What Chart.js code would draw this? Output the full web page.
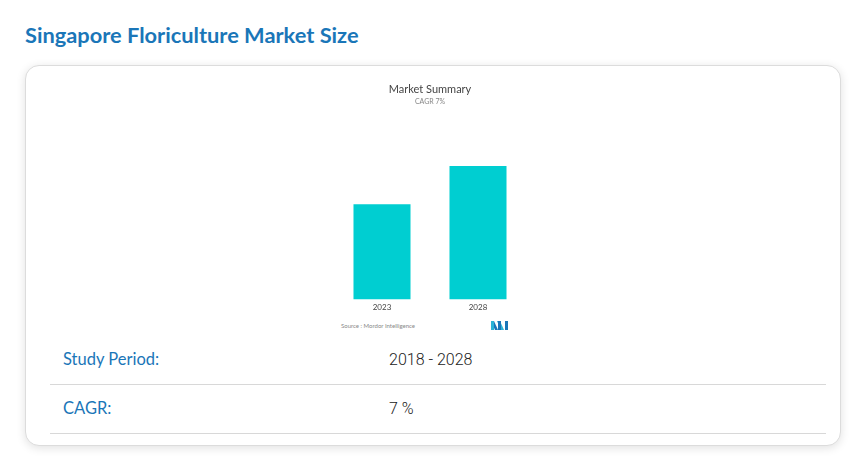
<!DOCTYPE html>
<html>
<head>
<meta charset="utf-8">
<script src="https://cdn.jsdelivr.net/npm/chart.js@4.4.1/dist/chart.umd.min.js"></script>
<style>
  html, body { margin: 0; padding: 0; background: #fff; width: 866px; height: 467px; overflow: hidden; }
  #pageTitle { position: absolute; left: 25px; top: 21px; font-family: Lato, sans-serif; font-weight: 700; font-size: 21.8px; color: #1a76b8; white-space: nowrap; }
  #card { position: absolute; left: 25px; top: 65px; width: 814px; height: 379px; border: 1px solid #dcdcdc; border-radius: 14px; background: #fff; box-shadow: 0 2px 10px rgba(0,0,0,0.12); }
  #chartBox { position: absolute; left: 330px; top: 78px; width: 200px; height: 240px; }
  #source { position: absolute; left: 341px; top: 322px; font-family: Lato, sans-serif; font-size: 6px; color: #888; white-space: nowrap; }
  #logo { position: absolute; left: 491px; top: 321px; width: 18px; height: 9px; }
  .row { position: absolute; left: 50px; width: 776px; height: 49px; border-bottom: 1px solid #d8d8d8; }
  .lab { position: absolute; left: 13px; top: 14px; font-family: Lato, sans-serif; font-size: 16.5px; color: #1a76b8; }
  .val { position: absolute; left: 339px; top: 15px; font-family: Roboto, sans-serif; font-weight: 300; font-size: 16px; color: #222; }
</style>
</head>
<body>
<div id="pageTitle">Singapore Floriculture Market Size</div>
<div id="card"></div>
<div id="chartBox"><canvas id="c"></canvas></div>
<div id="source">Source : Mordor Intelligence</div>
<svg id="logo" viewBox="0 0 18 9">
  <polygon points="0,0 3,0 7,9 4,9" fill="#1a76b8"/>
  <polygon points="0,0 3,0 3,9 0,9" fill="#2bb3d6"/>
  <polygon points="6,0 9,0 13,9 10,9" fill="#2bb3d6"/>
  <polygon points="7,0 10,0 10,9 7,9" fill="#1a76b8"/>
  <polygon points="14,0 17,0 17,9 14,9" fill="#1a76b8"/>
</svg>
<div class="row" style="top:335px"><span class="lab">Study Period:</span><span class="val">2018 - 2028</span></div>
<div class="row" style="top:384px"><span class="lab">CAGR:</span><span class="val">7 %</span></div>
<script>
const categories = ['2023', '2028'];
const marketSize = [1.0, 1.4];
const chartTitle = 'Market Summary';
const chartSubtitle = 'CAGR 7%';

new Chart(document.getElementById('c'), {
  type: 'bar',
  data: {
    labels: categories,
    datasets: [{ data: marketSize, backgroundColor: '#00ced1', barPercentage: 0.594, categoryPercentage: 1.0 }]
  },
  options: {
    responsive: true,
    maintainAspectRatio: false,
    animation: false,
    layout: { padding: { left: 4, right: 4, top: 0, bottom: 3 } },
    plugins: {
      legend: { display: false },
      tooltip: { enabled: false },
      title: { display: true, text: chartTitle, color: '#444', font: { family: 'Lato', size: 11, weight: 'normal' }, padding: { top: 5, bottom: 1 } },
      subtitle: { display: true, text: chartSubtitle, color: '#888', font: { family: 'Lato', size: 7 }, padding: { top: 0, bottom: 22.4 } }
    },
    scales: {
      x: {
        grid: { display: false, drawTicks: false },
        border: { display: false },
        ticks: { color: '#444', font: { family: 'Lato', size: 8 }, padding: 3 }
      },
      y: { display: false, min: 0, max: 1.8 }
    }
  }
});
</script>
</body>
</html>
